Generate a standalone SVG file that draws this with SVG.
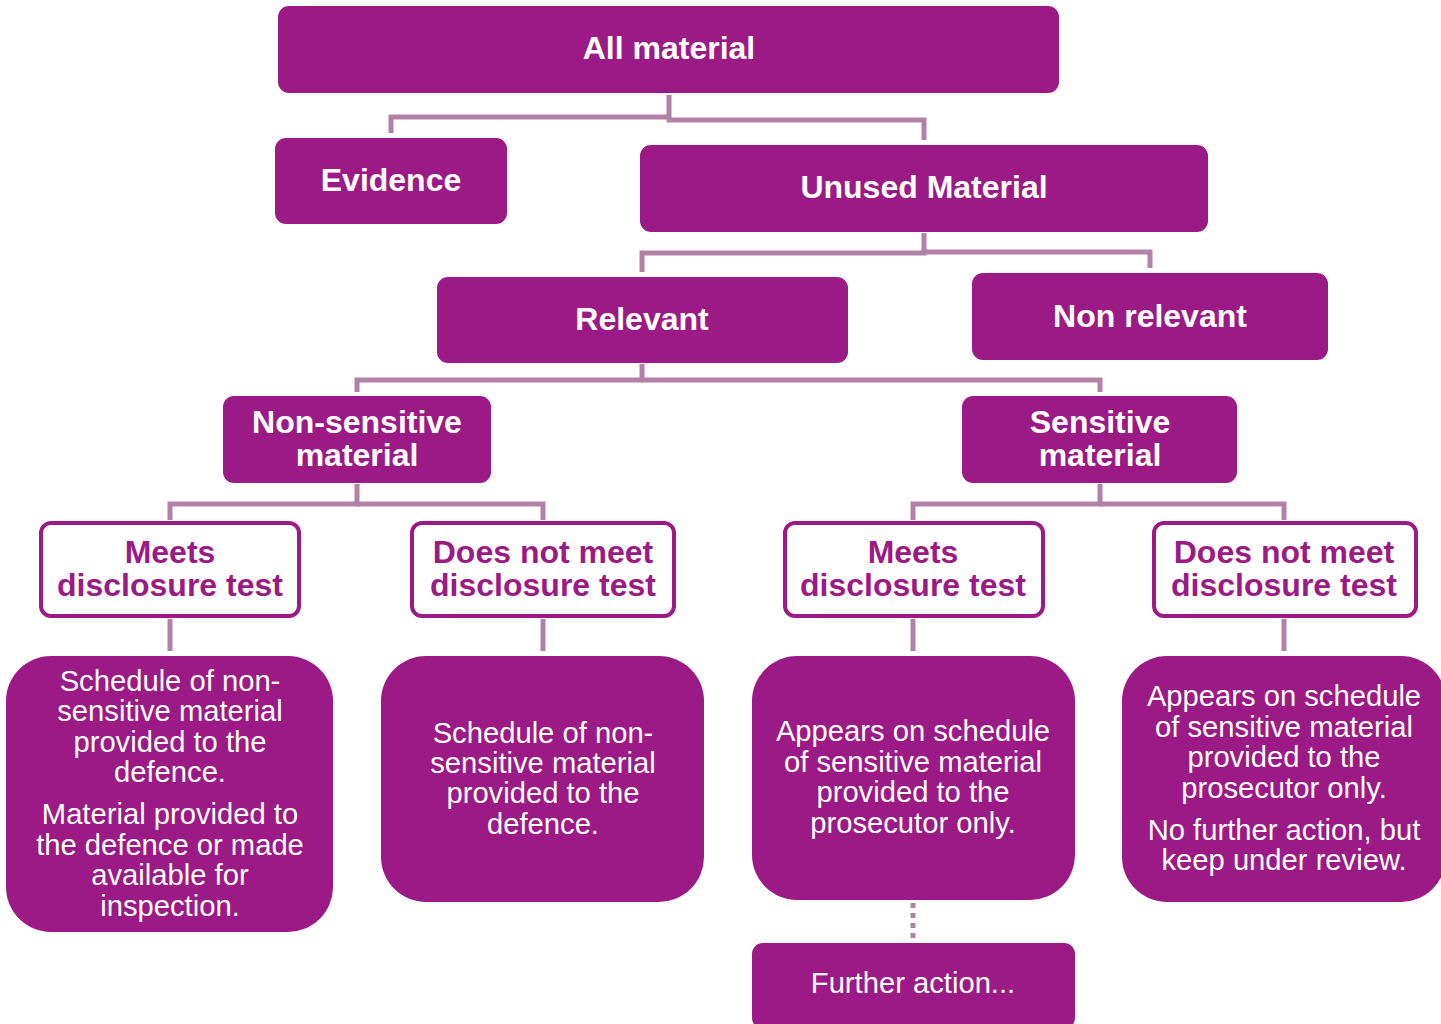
<svg xmlns="http://www.w3.org/2000/svg" width="1441" height="1024" viewBox="0 0 1441 1024">
<style>
.box{fill:#9b1a86}
.wbox{fill:#ffffff;stroke:#9b1a86;stroke-width:4}
.t{font-family:"Liberation Sans",Arial,sans-serif;font-weight:bold;font-size:32px;fill:#ffffff;text-anchor:middle}
.tp{font-family:"Liberation Sans",Arial,sans-serif;font-weight:bold;font-size:32px;fill:#9b1a86;text-anchor:middle}
.b{font-family:"Liberation Sans",Arial,sans-serif;font-size:29.2px;fill:#ffffff;text-anchor:middle}
.c{fill:none;stroke:#b281a6;stroke-width:5}
.d{fill:none;stroke:#b281a6;stroke-width:5;stroke-dasharray:5 5}
</style>
<rect width="1441" height="1024" fill="#ffffff"/>
<g id="connectors">
<path class="c" d="M669 95V117H391V133"/>
<path class="c" d="M669 117V120H924V140"/>
<path class="c" d="M924 233V253H642V272"/>
<path class="c" d="M924 253V252H1150V268"/>
<path class="c" d="M642 364V380H357V392"/>
<path class="c" d="M642 380H1100V392"/>
<path class="c" d="M357 484V504H170V520"/>
<path class="c" d="M357 504H543V520"/>
<path class="c" d="M1100 484V504H913V520"/>
<path class="c" d="M1100 504H1284V520"/>
<path class="c" d="M170 619V651"/>
<path class="c" d="M543 619V651"/>
<path class="c" d="M913 619V651"/>
<path class="c" d="M1284 619V651"/>
<path class="d" d="M913 903V939"/>
</g>
<g id="all-material"><rect class="box" x="278" y="6" width="781" height="87" rx="11"/><text class="t" x="669" y="59">All material</text></g>
<g id="evidence"><rect class="box" x="275" y="138" width="232" height="86" rx="11"/><text class="t" x="391" y="191">Evidence</text></g>
<g id="unused-material"><rect class="box" x="640" y="145" width="568" height="87" rx="11"/><text class="t" x="924" y="198">Unused Material</text></g>
<g id="relevant"><rect class="box" x="437" y="277" width="411" height="86" rx="11"/><text class="t" x="642" y="330">Relevant</text></g>
<g id="non-relevant"><rect class="box" x="972" y="273" width="356" height="87" rx="11"/><text class="t" x="1150" y="327">Non relevant</text></g>
<g id="non-sensitive"><rect class="box" x="223" y="396" width="268" height="87" rx="11"/><text class="t" x="357" y="433">Non-sensitive</text><text class="t" x="357" y="466">material</text></g>
<g id="sensitive"><rect class="box" x="962" y="396" width="275" height="87" rx="11"/><text class="t" x="1100" y="433">Sensitive</text><text class="t" x="1100" y="466">material</text></g>
<g id="ns-meets"><rect class="wbox" x="41" y="523" width="258" height="93" rx="10"/><text class="tp" x="170" y="563">Meets</text><text class="tp" x="170" y="596">disclosure test</text></g>
<g id="ns-not-meet"><rect class="wbox" x="412" y="523" width="262" height="93" rx="10"/><text class="tp" x="543" y="563">Does not meet</text><text class="tp" x="543" y="596">disclosure test</text></g>
<g id="s-meets"><rect class="wbox" x="785" y="523" width="258" height="93" rx="10"/><text class="tp" x="913" y="563">Meets</text><text class="tp" x="913" y="596">disclosure test</text></g>
<g id="s-not-meet"><rect class="wbox" x="1154" y="523" width="262" height="93" rx="10"/><text class="tp" x="1284" y="563">Does not meet</text><text class="tp" x="1284" y="596">disclosure test</text></g>
<g id="box-a"><rect class="box" x="6" y="656" width="327" height="276" rx="45"/>
<text class="b" x="170" y="691">Schedule of non-</text><text class="b" x="170" y="721">sensitive material</text><text class="b" x="170" y="752">provided to the</text><text class="b" x="170" y="782">defence.</text>
<text class="b" x="170" y="824">Material provided to</text><text class="b" x="170" y="855">the defence or made</text><text class="b" x="170" y="885">available for</text><text class="b" x="170" y="916">inspection.</text></g>
<g id="box-b"><rect class="box" x="381" y="656" width="323" height="246" rx="45"/>
<text class="b" x="543" y="743">Schedule of non-</text><text class="b" x="543" y="773">sensitive material</text><text class="b" x="543" y="803">provided to the</text><text class="b" x="543" y="834">defence.</text></g>
<g id="box-c"><rect class="box" x="752" y="656" width="323" height="244" rx="45"/>
<text class="b" x="913" y="741">Appears on schedule</text><text class="b" x="913" y="772">of sensitive material</text><text class="b" x="913" y="802">provided to the</text><text class="b" x="913" y="833">prosecutor only.</text></g>
<g id="box-d"><rect class="box" x="1122" y="656" width="324" height="246" rx="45"/>
<text class="b" x="1284" y="706">Appears on schedule</text><text class="b" x="1284" y="737">of sensitive material</text><text class="b" x="1284" y="767">provided to the</text><text class="b" x="1284" y="798">prosecutor only.</text>
<text class="b" x="1284" y="840">No further action, but</text><text class="b" x="1284" y="870">keep under review.</text></g>
<g id="further-action"><rect class="box" x="752" y="943" width="323" height="86" rx="11"/><text class="b" x="913" y="993">Further action...</text></g>
</svg>
